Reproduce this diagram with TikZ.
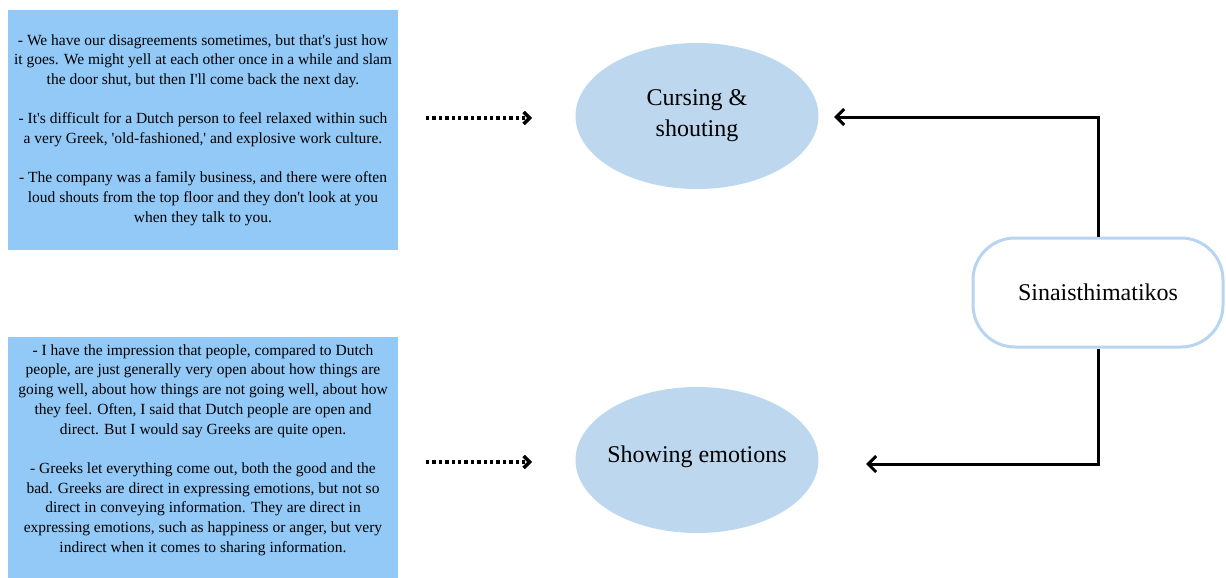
\documentclass[tikz,border=0pt]{standalone}
\usepackage{fontspec}
\setmainfont{Liberation Serif}
\usetikzlibrary{arrows.meta,shapes.geometric}
\definecolor{quotefill}{RGB}{146,201,247}
\definecolor{themefill}{RGB}{189,215,238}
\definecolor{themeline}{RGB}{183,213,240}
\newcommand{\sq}{\textquotesingle}
\tikzset{
  quotebox/.style={rectangle, fill=quotefill, draw=none, minimum width=390pt, inner sep=0pt},
  quotetext/.style={align=center, inner sep=0pt, font=\fontsize{15.5}{19.7}\selectfont},
  theme/.style={ellipse, fill=themefill, draw=none, minimum width=243pt, minimum height=146pt, inner sep=0pt},
  themetext/.style={align=center, inner sep=0pt, font=\fontsize{24}{31}\selectfont},
  category/.style={rectangle, rounded corners=42pt, draw=themeline, line width=3pt, fill=white,
    minimum width=250pt, minimum height=109pt, font=\fontsize{24}{28}\selectfont},
  evidence/.style={line width=3.4pt, dash pattern=on 3.4pt off 3pt, -{Straight Barb[length=6pt,width=12pt,line width=3.4pt]}},
  link/.style={line width=3pt, -{Straight Barb[length=8pt,width=16pt,line width=3pt]}}
}
\begin{document}
\begin{tikzpicture}[x=1pt,y=-1pt]
\useasboundingbox (0,0) rectangle (1226,578);

% interview excerpts
\node[quotebox, minimum height=240pt] (q1) at (203,130) {};
\node[quotetext] (t1) at (203,130) {%
- We have our disagreements sometimes, but that\sq s just how\\
it goes. We might yell at each other once in a while and slam\\
the door shut, but then I\sq ll come back the next day.\\[19.7pt]
- It\sq s difficult for a Dutch person to feel relaxed within such\\
a very Greek, \sq old-fashioned,\sq{} and explosive work culture.\\[19.7pt]
- The company was a family business, and there were often\\
loud shouts from the top floor and they don\sq t look at you\\
when they talk to you.};

\node[quotebox, minimum height=241pt] (q2) at (203,457.5) {};
\node[quotetext] (t2) at (203,450) {%
- I have the impression that people, compared to Dutch\\
people, are just generally very open about how things are\\
going well, about how things are not going well, about how\\
they feel. Often, I said that Dutch people are open and\\
direct. But I would say Greeks are quite open.\\[19.7pt]
- Greeks let everything come out, both the good and the\\
bad. Greeks are direct in expressing emotions, but not so\\
direct in conveying information. They are direct in\\
expressing emotions, such as happiness or anger, but very\\
indirect when it comes to sharing information.};

% sub-themes
\node[theme] (cs) at (697,116) {};
\node[themetext] (cst) at (697,116) {Cursing \&\\shouting};
\node[theme] (se) at (697,460) {};
\node[themetext] (set) at (697,457) {Showing emotions};

% main theme
\node[category] (main) at (1098,292.5) {Sinaisthimatikos};

% evidence arrows
\coordinate (e1s) at (426,118);
\coordinate (e2s) at (426,462);
\draw[evidence] (e1s) -- (532,118);
\draw[evidence] (e2s) -- (532,462);

% theme links
\coordinate (c1) at (1098,117);
\coordinate (c2) at (1098,464);
\draw[link] (main.north) -- (c1) -- (834,117);
\draw[link] (main.south) -- (c2) -- (866,464);
\end{tikzpicture}
\end{document}
